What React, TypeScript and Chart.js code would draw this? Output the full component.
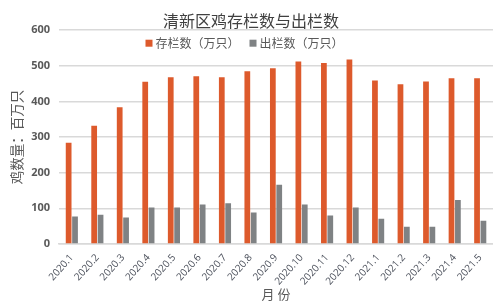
import React, { useEffect, useRef } from "react";
import { Chart, registerables } from "chart.js";

Chart.register(...registerables);

const categories = [
  "2020.1", "2020.2", "2020.3", "2020.4", "2020.5", "2020.6", "2020.7", "2020.8", "2020.9",
  "2020.10", "2020.11", "2020.12", "2021.1", "2021.2", "2021.3", "2021.4", "2021.5",
];
const stockValues = [284, 332, 384, 455, 468, 471, 468, 485, 493, 512, 508, 518, 459, 448, 456, 465, 465];
const outValues = [77, 82, 74, 102, 102, 111, 114, 88, 166, 111, 80, 102, 71, 48, 48, 123, 65];
const seriesNames = ["存栏数（万只）", "出栏数（万只）"];
const titleText = "清新区鸡存栏数与出栏数";
const yTitle = "鸡数量：百万只";
const xTitle = "月 份";

const ORANGE = "#DD5A2C";
const GRAY = "#7F8284";
const SANS = "'Noto Sans CJK SC', 'Open Sans', sans-serif";

const innerLegend = {
  id: "innerLegend",
  afterDraw(chart: any) {
    const { ctx, chartArea } = chart;
    const items = chart.data.datasets.map((d: any) => ({ text: d.label, color: d.backgroundColor }));
    ctx.save();
    ctx.font = `12px ${SANS}`;
    const box = 7;
    const gapBox = 3;
    const gapItem = 10;
    const widths = items.map((it: any) => box + gapBox + ctx.measureText(it.text).width);
    const total = widths.reduce((a: number, b: number) => a + b, 0) + gapItem * (items.length - 1);
    const cx = chart.width / 2 - 2;
    const y = chartArea.top + 13;
    let x = cx - total / 2;
    ctx.textBaseline = "middle";
    ctx.textAlign = "left";
    items.forEach((it: any, i: number) => {
      ctx.fillStyle = it.color;
      ctx.fillRect(x, y - box / 2, box, box);
      ctx.fillStyle = "#595959";
      ctx.fillText(it.text, x + box + gapBox, y + 0.5);
      x += widths[i] + gapItem;
    });
    ctx.restore();
  },
};

export default function App() {
  const ref = useRef<HTMLCanvasElement | null>(null);
  useEffect(() => {
    document.body.style.margin = "0";
    const ctx = ref.current!;
    const chart = new Chart(ctx, {
      type: "bar",
      data: {
        labels: categories,
        datasets: [
          { label: seriesNames[0], data: stockValues, backgroundColor: ORANGE, categoryPercentage: 0.5, barPercentage: 0.9 },
          { label: seriesNames[1], data: outValues, backgroundColor: GRAY, categoryPercentage: 0.5, barPercentage: 0.9 },
        ],
      },
      plugins: [innerLegend],
      options: {
        responsive: false,
        animation: false,
        layout: { padding: { left: 9, right: 0, top: 0, bottom: 0 } },
        plugins: {
          title: {
            display: true,
            text: titleText,
            color: "#404040",
            font: { family: SANS, size: 16, weight: "normal" },
            padding: { top: 11, bottom: 0 },
          },
          legend: { display: false },
          tooltip: { enabled: false },
        },
        scales: {
          x: {
            grid: { display: false },
            border: { color: "#D9D9D9", width: 1.5 },
            ticks: {
              color: "#4A4F5A",
              font: { family: "'Open Sans', sans-serif", size: 10 },
              minRotation: 48,
              maxRotation: 48,
              padding: 0,
            },
            title: {
              display: true,
              text: xTitle,
              color: "#595959",
              font: { family: SANS, size: 13 },
              padding: { top: -1, bottom: 0 },
            },
          },
          y: {
            min: 0,
            max: 600,
            ticks: {
              stepSize: 100,
              color: "#595959",
              font: { family: "'Open Sans', sans-serif", size: 11, weight: "bold" },
              padding: 9,
            },
            grid: { color: "#D9D9D9", lineWidth: 1.5, drawTicks: false },
            border: { display: false },
            title: {
              display: true,
              text: yTitle,
              color: "#595959",
              font: { family: SANS, size: 13.5 },
              padding: { top: 0, bottom: -3 },
            },
          },
        },
      },
    });
    return () => chart.destroy();
  }, []);
  return (
    <div style={{ width: 493, height: 302 }}>
      <canvas ref={ref} width={493} height={302} />
    </div>
  );
}
